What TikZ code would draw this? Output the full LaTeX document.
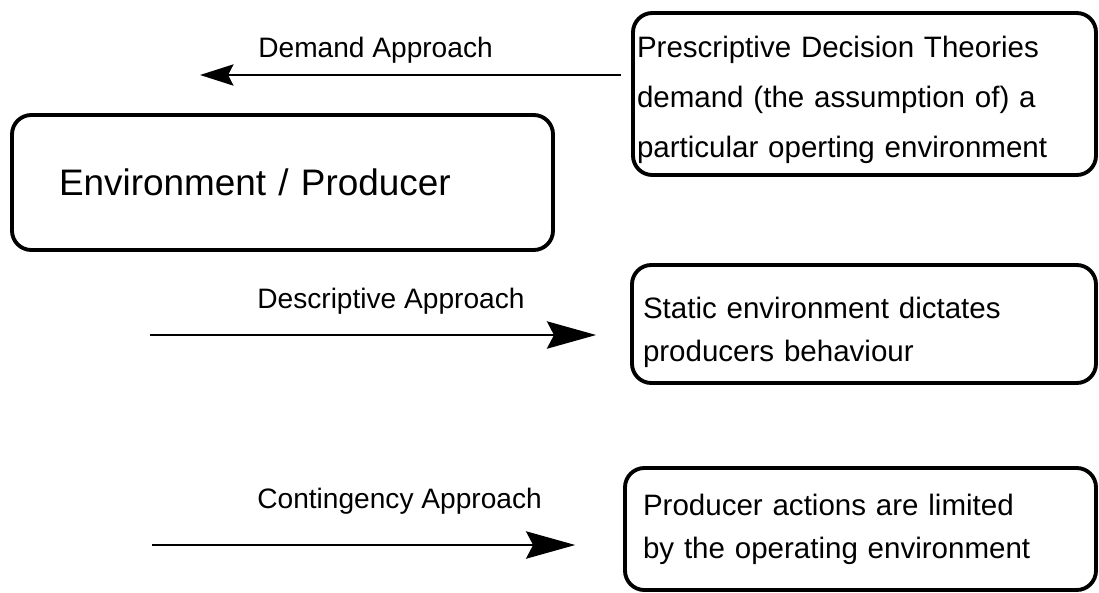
\documentclass[tikz,border=0pt]{standalone}
\usepackage{fontspec}
\setmainfont{Liberation Sans}
\usetikzlibrary{arrows.meta}
\newcommand{\pxl}{0.02cm}
\tikzset{
  roundbox/.style={draw,line width=2.2pt,rounded corners=11pt,inner ysep=0pt,align=left},
  boxfont/.style={font=\fontsize{16.8pt}{24.4pt}\selectfont},
  approach/.style={line width=1.6pt,-{Stealth[length=28pt,width=15.5pt,inset=4pt]}},
  demand/.style={line width=1.6pt,-{Stealth[length=19pt,width=12pt,inset=3pt]}},
  lbl/.style={anchor=base west,inner sep=0pt,font=\fontsize{16pt}{20pt}\selectfont}
}

\begin{document}
\begin{tikzpicture}[x=\pxl,y=-\pxl]
	\useasboundingbox (0,0) rectangle (1099,592);

	% boxes
	\node[roundbox,font=\fontsize{16.8pt}{28.4pt}\selectfont,minimum width=463*\pxl,minimum height=162*\pxl,text width=455*\pxl,inner xsep=4*\pxl] (prescr) at (864.5,94)
		{\rule{0pt}{19pt}Prescriptive Decision Theories\\ demand (the assumption of) a\\ particular operting environment};
	\node[roundbox,font=\fontsize{21pt}{25pt}\selectfont,minimum width=541*\pxl,minimum height=135*\pxl,text width=447*\pxl,inner xsep=47*\pxl] (envprod) at (282.5,182.5)
		{Environment / Producer};
	\node[roundbox,boxfont,minimum width=464*\pxl,minimum height=118*\pxl,text width=442*\pxl,inner xsep=11*\pxl] (descbox) at (864,324)
		{\rule{0pt}{22pt}Static environment dictates\\ producers behaviour};
	\node[roundbox,boxfont,minimum width=471*\pxl,minimum height=122*\pxl,text width=435*\pxl,inner xsep=18*\pxl] (contbox) at (860.5,529)
		{Producer actions are limited\\ by the operating environment};

	% approaches
	\node[lbl] (demandlbl) at (258,57) {Demand Approach};
	\node[lbl] (desclbl) at (257,308) {Descriptive Approach};
	\node[lbl] (contlbl) at (257,508) {Contingency Approach};

	\coordinate (demandtip) at (200,75);
	\coordinate (descstart) at (150,335);
	\coordinate (contstart) at (152,545);

	\draw[demand,shorten <=5.7pt] (prescr.west |- demandtip) -- (demandtip);
	\draw[approach,shorten >=19.3pt] (descstart) -- (descstart -| descbox.west);
	\draw[approach,shorten >=27.2pt] (contstart) -- (contstart -| contbox.west);
\end{tikzpicture}
\end{document}
